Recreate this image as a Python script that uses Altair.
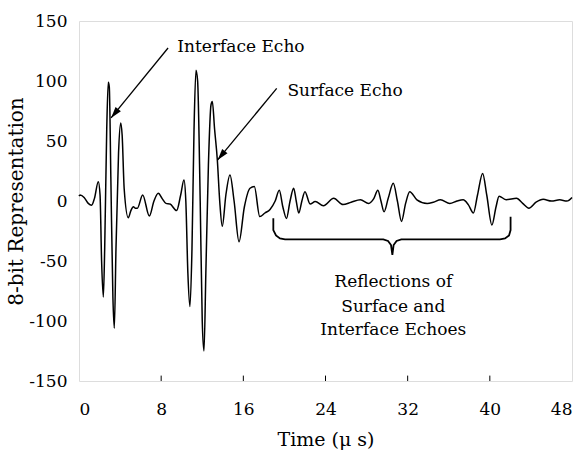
import altair as alt
import pandas as pd

# waveform (time in microseconds, 8-bit amplitude)
time_us = [0.0, 0.1, 0.5, 0.9, 1.23, 1.5, 1.88, 2.05, 2.2, 2.37, 2.5, 2.7, 2.85, 2.95, 3.1, 3.3, 3.44,
           3.6, 3.85, 4.06, 4.2, 4.4, 4.8, 5.05, 5.29, 5.5, 5.68, 6.2, 6.85, 7.3, 7.72, 8.1, 8.47,
           8.86, 9.5, 9.9, 10.22, 10.4, 10.6, 10.8, 11.0, 11.2, 11.39, 11.55, 11.8, 12.0, 12.17,
           12.35, 12.6, 12.85, 12.98, 13.2, 13.47, 13.7, 13.95, 14.3, 14.7, 15.1, 15.58, 16.1,
           16.65, 17.07, 17.6, 18.1, 18.6, 19.1, 19.5, 19.85, 20.2, 20.55, 20.9, 21.15, 21.4, 21.7,
           22.0, 22.5, 23.0, 23.8, 24.8, 25.7, 26.5, 27.4, 28.2, 28.7, 29.1, 29.4, 29.7, 30.1, 30.6,
           31.0, 31.4, 31.8, 32.2, 32.9, 33.9, 34.5, 35.2, 36.1, 36.8, 37.4, 37.9, 38.4, 38.8, 39.3,
           39.7, 40.2, 40.6, 40.9, 41.6, 42.6, 43.2, 43.8, 44.5, 45.2, 46.0, 46.8, 47.5, 48.0]
amplitude = [4, 5, 3, -2, -3.5, 2, 16, 5, -50, -80, -40, 60, 99, 95, 20, -80, -106,
             -40, 40, 65, 55, 10, -14, -8, -4.7, -6, -6, 5, -12.5, 0, 6.4, 2, -2,
             -2.5, -8, 5, 17.5, 0, -60, -88, -40, 60, 109, 100, 0, -100, -125,
             -60, 30, 80, 83, 60, 34, 0, -21, 5, 21.7, 0, -34, -5,
             10.6, 12, -13, -10, -7, 0, 9, -5, -14.5, 0, 10.6, 0, -10, 0,
             7.8, -2.5, -0.5, -4, 2.2, -3, -1, 1, -2, 2, 9, 0, -9, 2, 14.7,
             0, -17, -2, 7.8, 1, -2, -1, 1, -2, 0, 1, -3, -10, 5, 23,
             5, -20, -5, 4, 1, 2.2, -2, -6, -1, 1.4, 0, 1, 0, 3]

x_ticks = [0, 8, 16, 24, 32, 40, 48]
y_ticks = [-150, -100, -50, 0, 50, 100, 150]

# annotations (data coordinates)
ann_text = ["Interface Echo", "Surface Echo", "Reflections of", "Surface and", "Interface Echoes"]
ann_x = [15.77, 25.9, 30.6, 30.6, 30.6]
ann_y = [128.3, 92.0, -67.2, -88.0, -107.5]

arrow_x1 = [8.67, 19.25]
arrow_y1 = [127.5, 93.9]
arrow_x2 = [3.12, 13.5]
arrow_y2 = [69.2, 34.2]

brace_x = [18.92, 18.92, 19.18, 19.57, 20.06, 29.63, 30.09, 30.38, 30.51,
           30.63, 30.92, 31.38, 40.99, 41.48, 41.87, 42.02, 42.02]
brace_y = [-14.4, -24.2, -28.75, -31.25, -31.9, -31.9, -33.3, -36.7, -45,
           -36.7, -33.3, -31.9, -31.9, -31.25, -28.75, -24.2, -13.1]

FONT = "DejaVu Serif"

wave = pd.DataFrame({"t": time_us, "v": amplitude})
xs = alt.Scale(domain=[0, 48], nice=False)
ys = alt.Scale(domain=[-150, 150], nice=False)

line = alt.Chart(wave).mark_line(color="black", strokeWidth=1.5, interpolate="monotone").encode(
    x=alt.X("t:Q", scale=xs, title="Time (μ s)",
            axis=alt.Axis(values=x_ticks, ticks=False, domain=False, grid=False, labelPadding=20,
                          labelFontSize=17, labelFont=FONT, labelColor="black",
                          labelExpr="'' + datum.value",
                          titleFont=FONT, titleFontSize=19, titleFontWeight="normal",
                          titleColor="black", titlePadding=13)),
    y=alt.Y("v:Q", scale=ys, title="8-bit Representation",
            axis=alt.Axis(values=y_ticks, ticks=False, domain=False, grid=False, labelPadding=12,
                          labelFontSize=17, labelFont=FONT, labelColor="black",
                          labelExpr="'' + datum.value",
                          titleFont=FONT, titleFontSize=20, titleFontWeight="normal",
                          titleColor="black", titlePadding=2)),
)

tick_df = pd.DataFrame({"t": x_ticks[1:-1]})
ticks = alt.Chart(tick_df).mark_rule(color="black", strokeWidth=1).encode(
    x=alt.X("t:Q", scale=xs), y=alt.datum(-150), y2=alt.datum(-145.5))

txt_df = pd.DataFrame({"x": ann_x, "y": ann_y, "label": ann_text})
texts = alt.Chart(txt_df).mark_text(font=FONT, fontSize=17, color="black",
                                    align="center", baseline="middle").encode(
    x=alt.X("x:Q", scale=xs), y=alt.Y("y:Q", scale=ys), text="label:N")

arr_df = pd.DataFrame({"x1": arrow_x1, "y1": arrow_y1, "x2": arrow_x2, "y2": arrow_y2})
arrows = alt.Chart(arr_df).mark_rule(color="black", strokeWidth=1.3).encode(
    x=alt.X("x1:Q", scale=xs), y=alt.Y("y1:Q", scale=ys), x2="x2:Q", y2="y2:Q")
heads = alt.Chart(arr_df).mark_point(
    shape="M0,0 L0.6,2 L-0.6,2 Z", filled=True, color="black", opacity=1,
    size=130, angle=219).encode(x=alt.X("x2:Q", scale=xs), y=alt.Y("y2:Q", scale=ys))

brace_df = pd.DataFrame({"x": brace_x, "y": brace_y, "o": list(range(len(brace_x)))})
brace = alt.Chart(brace_df).mark_line(color="black", strokeWidth=1.8).encode(
    x=alt.X("x:Q", scale=xs), y=alt.Y("y:Q", scale=ys), order="o:Q")

chart = alt.layer(line, ticks, arrows, heads, brace, texts).properties(
    width=493, height=360,
    autosize=alt.AutoSizeParams(type="none"),
    padding={"left": 79, "top": 21, "right": 11, "bottom": 77},
).configure_view(stroke="black", strokeWidth=1.2).configure(background="white")

chart.save("out.html", embed_options={"renderer": "svg", "actions": False})
